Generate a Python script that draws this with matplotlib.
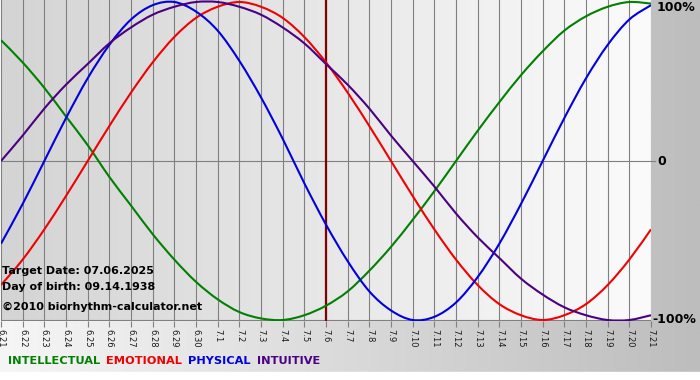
import numpy as np
import matplotlib.pyplot as plt
from matplotlib.path import Path
from matplotlib.patches import PathPatch
from matplotlib.colors import LinearSegmentedColormap

# dates shown on the x axis (month.day)
dates = ['6.21', '6.22', '6.23', '6.24', '6.25', '6.26', '6.27', '6.28', '6.29', '6.30',
         '7.1', '7.2', '7.3', '7.4', '7.5', '7.6', '7.7', '7.8', '7.9', '7.10',
         '7.11', '7.12', '7.13', '7.14', '7.15', '7.16', '7.17', '7.18', '7.19', '7.20', '7.21']

# values read per day (-1 .. 1 = -100% .. 100%)
physical = [-0.52, -0.27, 0.0, 0.27, 0.52, 0.73, 0.89, 0.98, 1.0, 0.94,
            0.82, 0.63, 0.40, 0.14, -0.14, -0.40, -0.63, -0.82, -0.94, -1.0,
            -0.98, -0.89, -0.73, -0.52, -0.27, 0.0, 0.27, 0.52, 0.73, 0.89, 0.98]
emotional = [-0.78, -0.62, -0.43, -0.22, 0.0, 0.22, 0.43, 0.62, 0.78, 0.90,
             0.97, 1.0, 0.97, 0.90, 0.78, 0.62, 0.43, 0.22, 0.0, -0.22,
             -0.43, -0.62, -0.78, -0.90, -0.97, -1.0, -0.97, -0.90, -0.78, -0.62, -0.43]
intellectual = [0.76, 0.62, 0.46, 0.28, 0.10, -0.10, -0.28, -0.46, -0.62, -0.76,
                -0.87, -0.95, -0.99, -1.0, -0.97, -0.91, -0.82, -0.69, -0.54, -0.37,
                -0.19, 0.0, 0.19, 0.37, 0.54, 0.69, 0.82, 0.91, 0.97, 1.0, 0.99]
intuitive = [0.0, 0.16, 0.33, 0.48, 0.61, 0.74, 0.84, 0.92, 0.97, 1.0,
             1.0, 0.97, 0.92, 0.84, 0.74, 0.61, 0.48, 0.33, 0.16, 0.0,
             -0.16, -0.33, -0.48, -0.61, -0.74, -0.84, -0.92, -0.97, -1.0, -1.0, -0.97]
target_idx = 15

names = ['INTELLECTUAL', 'EMOTIONAL', 'PHYSICAL', 'INTUITIVE']
colors = ['#008000', '#f00000', '#0000e0', '#4b0082']


def smooth_path(xs, ys):
    # smooth line through the points (catmull-rom drawn as bezier segments)
    pts = np.column_stack([xs, ys]).astype(float)
    verts = [pts[0]]
    codes = [Path.MOVETO]
    n = len(pts)
    for i in range(n - 1):
        p0 = pts[i - 1] if i > 0 else pts[i]
        p1, p2 = pts[i], pts[i + 1]
        p3 = pts[i + 2] if i + 2 < n else pts[i + 1]
        verts += [p1 + (p2 - p0) / 6, p2 - (p3 - p1) / 6, p2]
        codes += [Path.CURVE4] * 3
    return Path(verts, codes)


W, H = 700, 380
fig = plt.figure(figsize=(W/100, H/100), dpi=100)

# background gradient of the whole picture
bg = fig.add_axes([0, 0, 1, 1])
grad = np.linspace(0, 1, 256).reshape(1, -1)
bg.imshow(grad, aspect='auto', extent=[0, 1, 0, 1],
          cmap=LinearSegmentedColormap.from_list('bg', ['#f6f6f6', '#bdbdbd']))
bg.axhspan(0, 8/H, color='white')
bg.set_xlim(0, 1); bg.set_ylim(0, 1)
bg.axis('off')

x = np.arange(len(dates))
ymin, ymax = -1.0063, 1.0126
ax = fig.add_axes([1/W, (H-321)/H, 650/W, 321/H])
ax.set_xlim(0, 30)
ax.set_ylim(ymin, ymax)
ax.imshow(grad, aspect='auto', extent=[0, 30, ymin, ymax], zorder=0,
          cmap=LinearSegmentedColormap.from_list('pa', ['#d4d4d4', '#fbfbfb']))

for xi in x:
    ax.axvline(xi, color='#808080', lw=0.8, zorder=1)
ax.plot([0, 30.2], [0, 0], color='#808080', lw=0.8, zorder=1, clip_on=False)
ax.axhline(-1.0, color='#808080', lw=0.8, zorder=1)
ax.axvline(target_idx, color='#800000', lw=1.6, zorder=2)

for vals, c in zip([intellectual, emotional, physical, intuitive], colors):
    ax.add_patch(PathPatch(smooth_path(x, vals), fill=False, edgecolor=c, lw=1.5, zorder=3))

for s in ax.spines.values():
    s.set_visible(False)
ax.set_yticks([])
ax.set_xticks(x)
ax.set_xticklabels(dates, rotation=-90, fontsize=6, color='#1a1a1a')
ax.tick_params(axis='x', length=4, color='#808080', pad=2)

ax.text(30.25, ymax - 0.005, '100%', fontsize=9, fontweight='bold', va='top', ha='left', clip_on=False)
ax.text(30.3, 0, '0', fontsize=9, fontweight='bold', va='center', ha='left', clip_on=False)
ax.text(30.05, -1.0, '-100%', fontsize=9, fontweight='bold', va='center', ha='left', clip_on=False)

ax.text(0.05, -0.69, 'Target Date: 07.06.2025', fontsize=8, fontweight='bold', va='center', zorder=4)
ax.text(0.05, -0.79, 'Day of birth: 09.14.1938', fontsize=8, fontweight='bold', va='center', zorder=4)
ax.text(0.05, -0.92, '\u00a92010 biorhythm-calculator.net', fontsize=8, fontweight='bold', va='center', zorder=4)

# legend line at the bottom
xpos = 8
for n, c in zip(names, colors):
    t = fig.text(xpos/W, 1 - 361/H, n, color=c, fontsize=8.2, fontweight='bold', va='center')
    fig.canvas.draw()
    xpos = t.get_window_extent().x1 + 6

fig.savefig('out.png', dpi=100)
